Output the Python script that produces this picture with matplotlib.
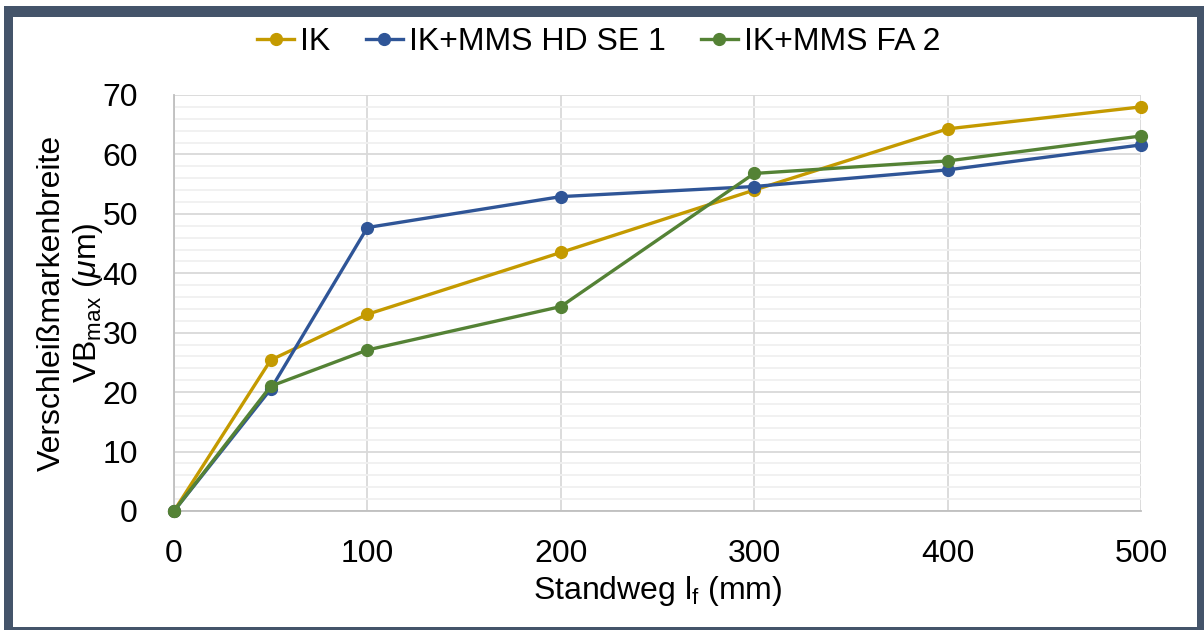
import matplotlib
matplotlib.use("Agg")
import matplotlib.pyplot as plt
from matplotlib.patches import Rectangle
from matplotlib.ticker import MultipleLocator

plt.rcParams['font.family'] = ['Liberation Sans', 'DejaVu Sans']
plt.rcParams['mathtext.fontset'] = 'custom'
plt.rcParams['mathtext.rm'] = 'Liberation Sans'
plt.rcParams['mathtext.it'] = 'Liberation Sans:italic'

# Standweg (mm) and flank wear VBmax (µm)
standweg = [0, 50, 100, 200, 300, 400, 500]
vb_ik = [0, 25.4, 33.1, 43.5, 54.0, 64.3, 68.0]
vb_hd_se1 = [0, 20.5, 47.7, 52.9, 54.6, 57.4, 61.6]
vb_fa2 = [0, 21.0, 27.1, 34.4, 56.8, 58.9, 63.1]

series_names = ["IK", "IK+MMS HD SE 1", "IK+MMS FA 2"]
series_colors = ["#C49A00", "#2F5597", "#548235"]

W, H = 1204, 630
fig = plt.figure(figsize=(W / 100, H / 100), dpi=100)

# dark frame around the chart
frame_color = "#44546A"
fig.patches.append(Rectangle((4 / W, 0), (W - 4) / W, (H - 6) / H, transform=fig.transFigure,
                             facecolor=frame_color, edgecolor='none', zorder=-2))
fig.patches.append(Rectangle((13 / W, 3 / H), (1197 - 13) / W, (613 - 3) / H,
                             transform=fig.transFigure, facecolor='white',
                             edgecolor='none', zorder=-1))

ax = fig.add_axes([174 / W, 1 - 511 / H, (1141 - 174) / W, (511 - 95) / H])
ax.set_xlim(0, 500)
ax.set_ylim(0, 70)

for y, name, c in zip([vb_ik, vb_hd_se1, vb_fa2], series_names, series_colors):
    ax.plot(standweg, y, color=c, lw=2.4, marker='o', ms=8.5, label=name,
            clip_on=False, zorder=3)

ax.xaxis.set_major_locator(MultipleLocator(100))
ax.yaxis.set_major_locator(MultipleLocator(10))
ax.yaxis.set_minor_locator(MultipleLocator(2))
ax.grid(True, which='major', color='#D9D9D9', lw=1.3)
ax.grid(True, which='minor', axis='y', color='#F0F0F0', lw=1.3)
ax.set_axisbelow(True)
for s in ['top', 'right']:
    ax.spines[s].set_visible(False)
for s in ['left', 'bottom']:
    ax.spines[s].set_color('#BFBFBF')
    ax.spines[s].set_linewidth(1.3)
ax.tick_params(which='both', length=0, labelsize=23, colors='black')
ax.tick_params(axis='y', pad=26)
ax.tick_params(axis='x', pad=20)

ax.set_xlabel(r"Standweg l$_\mathregular{f}$ (mm)", fontsize=23, labelpad=4)
ax.set_ylabel("Verschleißmarkenbreite\n" + r"VB$_\mathregular{max}$ ($\mu$m)",
              fontsize=23, labelpad=-2, linespacing=1.15)

leg = fig.legend(*ax.get_legend_handles_labels(), loc='center',
                 bbox_to_anchor=(599 / W, 1 - 42 / H), ncol=3, frameon=False,
                 fontsize=23, handlelength=1.15, handletextpad=0.2, columnspacing=1.1,
                 borderaxespad=0)

fig.savefig("out.png", dpi=100)
